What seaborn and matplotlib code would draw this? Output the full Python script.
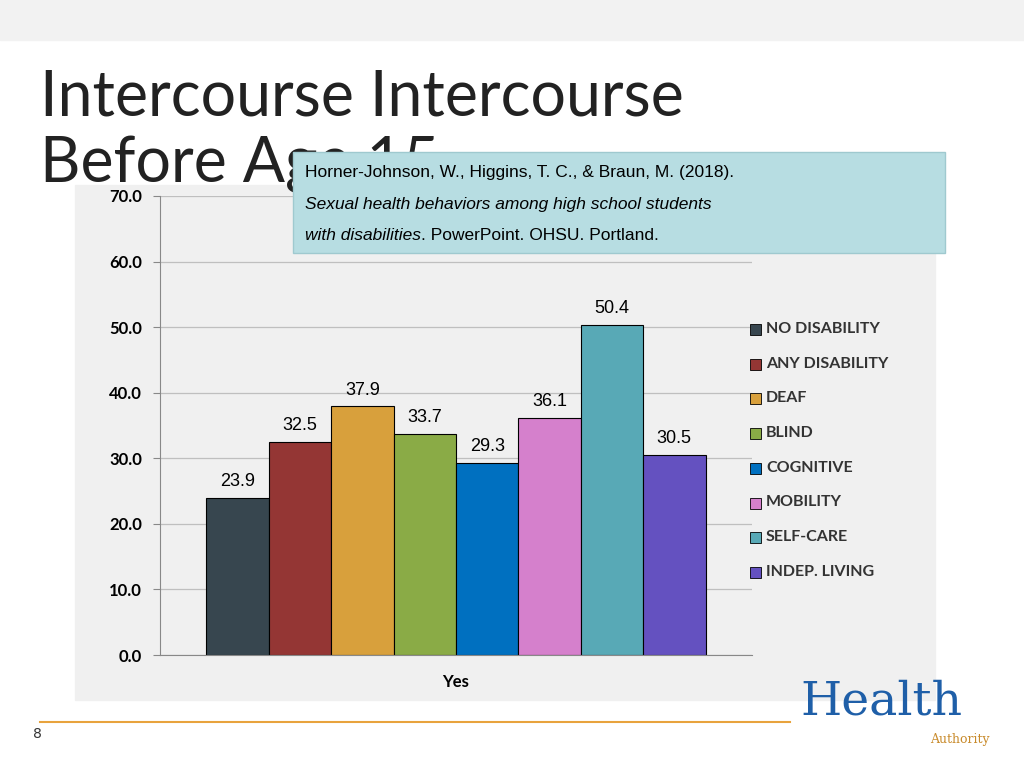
import matplotlib
matplotlib.use("Agg")
import matplotlib.pyplot as plt
import matplotlib.patches as mpatches
import pandas as pd
import seaborn as sns

categories = ["NO DISABILITY", "ANY DISABILITY", "DEAF", "BLIND", "COGNITIVE",
              "MOBILITY", "SELF-CARE", "INDEP. LIVING"]
values = [23.9, 32.5, 37.9, 33.7, 29.3, 36.1, 50.4, 30.5]
colors = ["#37464f", "#943634", "#d8a03c", "#8aab46", "#0070c0",
          "#d580cc", "#58a9b6", "#6451c0"]
yticks = [0, 10, 20, 30, 40, 50, 60, 70]

df = pd.DataFrame({"group": "Yes", "cat": categories, "val": values})

fig = plt.figure(figsize=(10.24, 7.68), dpi=100)
fig.patch.set_facecolor("white")
# top strip and chart panel
fig.patches.append(mpatches.Rectangle((0, 1 - 40 / 768), 1, 40 / 768, transform=fig.transFigure,
                                      color="#f2f2f2", zorder=-2))
fig.patches.append(mpatches.Rectangle((75 / 1024, 1 - 700 / 768), 860 / 1024, 515 / 768,
                                      transform=fig.transFigure, color="#f0f0f0", zorder=-2))

ax = fig.add_axes([160 / 1024, 1 - 655 / 768, 592 / 1024, 459 / 768])
ax.set_zorder(2)
ax.set_facecolor("#f0f0f0")
sns.barplot(data=df, x="group", y="val", hue="cat", hue_order=categories,
            palette=colors, saturation=1, width=0.843, gap=0, dodge=True, legend=False,
            edgecolor="black", linewidth=0.8, ax=ax)
for bar, v in zip(ax.patches, values):
    ax.text(bar.get_x() + bar.get_width() / 2, v + 1.2, f"{v:.1f}", ha="center",
            va="bottom", fontsize=13, family="Liberation Sans")
ax.set_ylim(0, 70)
ax.set_xlim(-0.5, 0.5)
ax.set_yticks(yticks)
ax.set_yticklabels([f"{t:.1f}" for t in yticks], fontsize=12, fontweight="bold", family="Lato")
ax.set_xticks([0])
ax.set_xticklabels(["Yes"], fontsize=12, fontweight="bold", family="Lato")
ax.set_xlabel("")
ax.set_ylabel("")
ax.grid(axis="y", color="#bfbfbf", linewidth=0.9)
ax.set_axisbelow(True)
for s in ["top", "right"]:
    ax.spines[s].set_visible(False)
ax.spines["left"].set_color("#888888")
ax.spines["bottom"].set_color("#888888")
ax.tick_params(axis="y", length=5, color="#888888", pad=8)
ax.tick_params(axis="x", length=0, pad=14)

# legend
for i, (c, col) in enumerate(zip(categories, colors)):
    y = 1 - (329 + i * 34.7) / 768
    fig.patches.append(mpatches.Rectangle((750 / 1024, y - 6 / 768), 11 / 1024, 11 / 768,
                                          transform=fig.transFigure, facecolor=col,
                                          edgecolor="black", linewidth=0.6, zorder=3))
    fig.text(766 / 1024, y, c, fontsize=11.5, fontweight="bold", family="Lato",
             color="#333333", va="center")

fig.text(40 / 1024, 1 - 98 / 768, "Intercourse Intercourse", fontsize=45, family="Lato",
         va="center", color="#222222")
fig.text(40 / 1024, 1 - 165 / 768, "Before Age 15", fontsize=45, family="Lato",
         va="center", color="#222222")

# citation box
fig.patches.append(mpatches.Rectangle((293 / 1024, 1 - 253 / 768), 652 / 1024, 101 / 768,
                                      transform=fig.transFigure, facecolor="#b7dde2",
                                      edgecolor="#9fc9cf", zorder=4))
fig.text(305 / 1024, 1 - 173 / 768, "Horner-Johnson, W., Higgins, T. C., & Braun, M. (2018).",
         fontsize=12.5, family="Liberation Sans", va="center", zorder=5)
fig.text(305 / 1024, 1 - 204 / 768, "Sexual health behaviors among high school students",
         fontsize=12.5, family="Liberation Sans", style="italic", va="center", zorder=5)
fig.text(305 / 1024, 1 - 235 / 768, "with disabilities", fontsize=12.5,
         family="Liberation Sans", style="italic", va="center", zorder=5)
fig.text(421 / 1024, 1 - 235 / 768, ". PowerPoint. OHSU. Portland.", fontsize=12.5,
         family="Liberation Sans", va="center", zorder=5)

# footer
fig.add_artist(plt.Line2D([40 / 1024, 790 / 1024], [1 - 722 / 768] * 2, color="#e8a33d",
                          linewidth=1.5, transform=fig.transFigure))
fig.text(33 / 1024, 1 - 734 / 768, "8", fontsize=10, va="center", color="#333333")
fig.text(800 / 1024, 1 - 702 / 768, "Health", fontsize=34, family="DejaVu Serif",
         color="#1f5fa8", va="center")
fig.text(930 / 1024, 1 - 740 / 768, "Authority", fontsize=9, family="DejaVu Serif",
         color="#c88a2a", va="center")

fig.savefig("out.png", dpi=100)
